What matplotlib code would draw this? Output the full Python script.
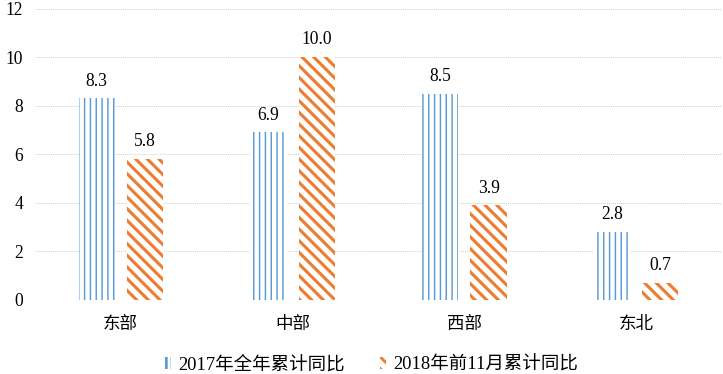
import numpy as np
import matplotlib
matplotlib.use('Agg')
import matplotlib.pyplot as plt

plt.rcParams['font.family'] = ['Liberation Serif', 'Noto Sans CJK SC']

# data
regions = ['东部', '中部', '西部', '东北']
growth_2017 = [8.3, 6.9, 8.5, 2.8]
growth_2018 = [5.8, 10.0, 3.9, 0.7]
series_names = ['2017年全年累计同比', '2018年前11月累计同比']

blue = '#5B9BD5'
orange = '#ED7D31'

DPI = 70
fig = plt.figure(figsize=(723 / DPI, 374 / DPI), dpi=DPI)
ax = fig.add_axes([0.048, 0.198, 0.951, 0.779])

x = np.arange(len(regions))
w = 0.21
off = 0.14

bars1 = ax.bar(x - off, growth_2017, w, facecolor='white', edgecolor=blue,
               linewidth=0, hatch='||', zorder=3)
bars2 = ax.bar(x + off, growth_2018, w, facecolor='white', edgecolor=orange,
               linewidth=0, hatch='\\\\', zorder=3)
for b in bars1:
    if hasattr(b, 'set_hatch_linewidth'):
        b.set_hatch_linewidth(1.5)
for b in bars2:
    if hasattr(b, 'set_hatch_linewidth'):
        b.set_hatch_linewidth(3.2)

ax.bar_label(bars1, labels=[f'{v:.1f}' for v in growth_2017], padding=9, fontsize=18)
ax.bar_label(bars2, labels=[f'{v:.1f}' for v in growth_2018], padding=9, fontsize=18)

ax.set_xlim(-0.5, len(regions) - 0.5)
ax.set_ylim(0, 12)
ax.set_yticks(np.arange(0, 13, 2))
ax.set_xticks(x)
ax.set_xticklabels(regions, fontsize=18)
ax.tick_params(axis='y', labelsize=18, length=0, pad=12)
ax.tick_params(axis='x', length=0, pad=17)
ax.grid(axis='y', color='#D0D0D0', linestyle=(0, (1, 1)), linewidth=1, zorder=0)
for s in ax.spines.values():
    s.set_visible(False)

leg = ax.legend([bars1[0], bars2[0]], series_names, loc='lower center',
                bbox_to_anchor=(0.49, -0.31), ncol=2, frameon=False,
                fontsize=19, handlelength=0.3, handleheight=0.6,
                handletextpad=0.4, columnspacing=1.9)
for h in leg.legend_handles:
    if hasattr(h, 'set_hatch_linewidth'):
        h.set_hatch_linewidth(3.0)

fig.savefig('out.png', dpi=DPI)
